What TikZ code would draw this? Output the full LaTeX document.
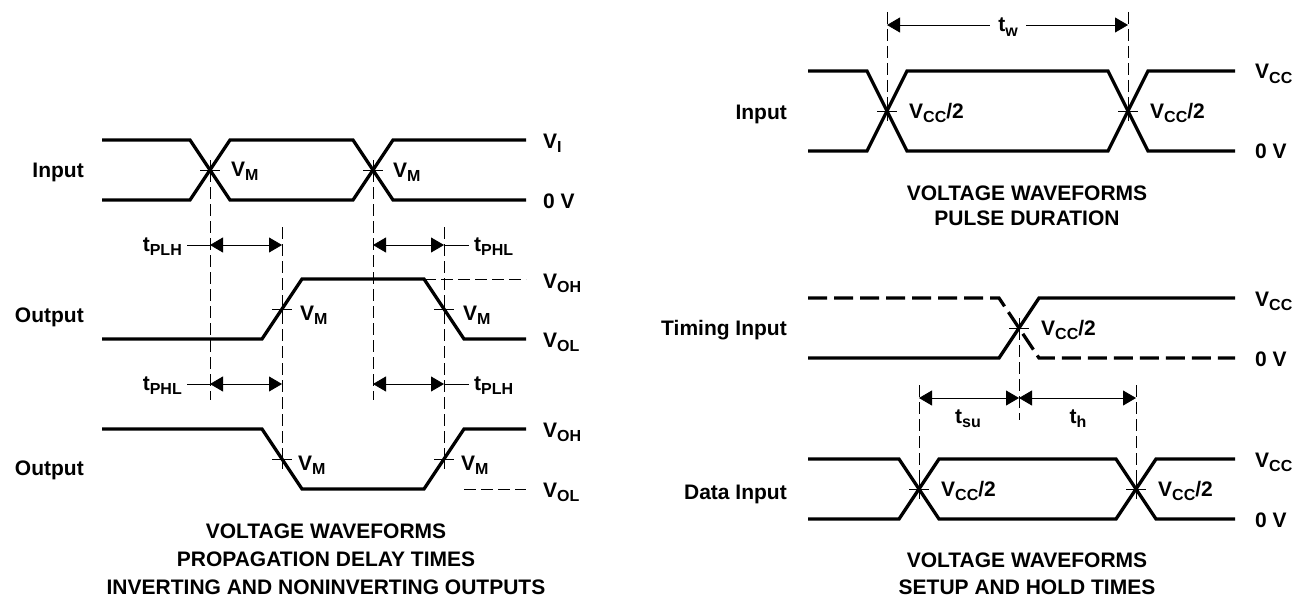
\documentclass[tikz,border=0pt]{standalone}
\usepackage{fontspec}
\setmainfont{Liberation Sans}
\usetikzlibrary{arrows.meta}
\newcommand{\Sb}[1]{\raisebox{-4.5pt}{\fontsize{16}{16}\selectfont #1}}
\begin{document}
\begin{tikzpicture}[x=1pt,y=-1pt,
  sig/.style={line width=3.3pt, line join=miter},
  sigdash/.style={sig, dash pattern=on 19pt off 7pt},
  guide/.style={line width=0.8pt, dash pattern=on 12pt off 5pt},
  thinln/.style={line width=0.8pt},
  dimarrow/.style={thinln, {Triangle[length=13pt,width=15pt]}-{Triangle[length=13pt,width=15pt]}},
  txt/.style={font=\bfseries\fontsize{21}{25}\selectfont, inner sep=0pt},
  vmark/.pic={\draw[line width=0.8pt] (-10,0) -- (10,0) (0,-10) -- (0,10);}
]
\useasboundingbox (0,0) rectangle (1305,599);

% ================= LEFT PANEL =================
\coordinate (ic1) at (210,170);
\coordinate (ic2) at (373,170);
\coordinate (oa1) at (282,309);
\coordinate (oa2) at (444,309);
\coordinate (ob1) at (282,459);
\coordinate (ob2) at (444,459);

\draw[sig] (102,140) -- (190,140) -- (230,200) -- (353,200) -- (393,140) -- (526,140);
\draw[sig] (102,200) -- (190,200) -- (230,140) -- (353,140) -- (393,200) -- (526,200);
\draw[sig] (102,339) -- (262,339) -- (302,279) -- (424,279) -- (464,339) -- (526,339);
\draw[sig] (102,429) -- (262,429) -- (302,489) -- (424,489) -- (464,429) -- (526,429);
\draw[guide] (424,279) -- (526,279);
\draw[guide] (464,489) -- (526,489);

\draw[guide] (ic1) -- (210,400);
\draw[guide] (ic2) -- (373,400);
\draw[guide] (282,227) -- (ob1);
\draw[guide] (444,227) -- (ob2);
\foreach \c in {ic1,ic2,oa1,oa2,ob1,ob2} \pic at (\c) {vmark};

\draw[dimarrow] (210,245) -- (282,245);
\draw[thinln] (187,245) -- (210,245);
\draw[dimarrow] (373,245) -- (444,245);
\draw[thinln] (444,245) -- (469,245);
\draw[dimarrow] (210,384) -- (282,384);
\draw[thinln] (187,384) -- (210,384);
\draw[dimarrow] (373,384) -- (444,384);
\draw[thinln] (444,384) -- (469,384);

\node[txt, anchor=base east] (lin) at (84,177) {Input};
\node[txt, anchor=base east] (lout1) at (84,322) {Output};
\node[txt, anchor=base east] (lout2) at (84,475) {Output};

\node[txt, anchor=base west] (vm1) at (231,176) {V\Sb{M}};
\node[txt, anchor=base west] (vm2) at (393,177) {V\Sb{M}};
\node[txt, anchor=base west] (vm3) at (300,320) {V\Sb{M}};
\node[txt, anchor=base west] (vm4) at (463,320) {V\Sb{M}};
\node[txt, anchor=base west] (vm5) at (298,470) {V\Sb{M}};
\node[txt, anchor=base west] (vm6) at (461,470) {V\Sb{M}};

\node[txt, anchor=base west] (vi) at (543,148) {V\Sb{I}};
\node[txt, anchor=base west] (v0l) at (543,208) {0 V};
\node[txt, anchor=base west] (voh1) at (543,288) {V\Sb{OH}};
\node[txt, anchor=base west] (vol1) at (543,347) {V\Sb{OL}};
\node[txt, anchor=base west] (voh2) at (543,437) {V\Sb{OH}};
\node[txt, anchor=base west] (vol2) at (543,497) {V\Sb{OL}};

\node[txt, anchor=base east] (tplh1) at (182,251) {t\Sb{PLH}};
\node[txt, anchor=base west] (tphl1) at (474,251) {t\Sb{PHL}};
\node[txt, anchor=base east] (tphl2) at (182,390) {t\Sb{PHL}};
\node[txt, anchor=base west] (tplh2) at (474,390) {t\Sb{PLH}};

\node[txt, anchor=base] (t1a) at (326,538) {VOLTAGE WAVEFORMS};
\node[txt, anchor=base] (t1b) at (326,566) {PROPAGATION DELAY TIMES};
\node[txt, anchor=base] (t1c) at (326,594) {INVERTING AND NONINVERTING OUTPUTS};

% ================= RIGHT TOP =================
\coordinate (pc1) at (887,111);
\coordinate (pc2) at (1128,111);
\draw[sig] (808,71) -- (867,71) -- (907,151) -- (1108,151) -- (1148,71) -- (1235,71);
\draw[sig] (808,151) -- (867,151) -- (907,71) -- (1108,71) -- (1148,151) -- (1235,151);
\draw[guide] (887,12) -- (pc1);
\draw[guide] (1128,12) -- (pc2);
\foreach \c in {pc1,pc2} \pic at (\c) {vmark};
\draw[dimarrow] (887,25) -- (1128,25);
\node[txt, fill=white, inner xsep=8pt, inner ysep=2pt] (tw) at (1008,27) {t\Sb{w}};

\node[txt, anchor=base east] (lpin) at (787,120) {Input};
\node[txt, anchor=base west] (pv1) at (909,118) {V\Sb{CC}/2};
\node[txt, anchor=base west] (pv2) at (1150,118) {V\Sb{CC}/2};
\node[txt, anchor=base west] (pvcc) at (1255,79) {V\Sb{CC}};
\node[txt, anchor=base west] (pv0) at (1255,158) {0 V};
\node[txt, anchor=base] (t2a) at (1027,200) {VOLTAGE WAVEFORMS};
\node[txt, anchor=base] (t2b) at (1027,225) {PULSE DURATION};

% ================= RIGHT BOTTOM =================
\coordinate (tc) at (1019,328);
\coordinate (dc1) at (919,489);
\coordinate (dc2) at (1136,489);
\draw[sig] (808,358) -- (999,358) -- (1039,298) -- (1235,298);
\draw[sigdash] (808,298) -- (999,298) -- (1039,358) -- (1235,358);
\draw[sig] (808,459) -- (899,459) -- (939,519) -- (1116,519) -- (1156,459) -- (1235,459);
\draw[sig] (808,519) -- (899,519) -- (939,459) -- (1116,459) -- (1156,519) -- (1235,519);
\draw[guide] (tc) -- (1019,420);
\draw[guide] (919,385) -- (dc1);
\draw[guide] (1136,385) -- (dc2);
\foreach \c in {tc,dc1,dc2} \pic at (\c) {vmark};
\draw[dimarrow] (919,398) -- (1019,398);
\draw[dimarrow] (1019,398) -- (1136,398);

\node[txt, anchor=base] (tsu) at (968,423) {t\Sb{su}};
\node[txt, anchor=base] (th) at (1078,423) {t\Sb{h}};

\node[txt, anchor=base east] (ltin) at (787,335) {Timing Input};
\node[txt, anchor=base east] (ldin) at (787,499) {Data Input};
\node[txt, anchor=base west] (tv) at (1041,335) {V\Sb{CC}/2};
\node[txt, anchor=base west] (dv1) at (941,496) {V\Sb{CC}/2};
\node[txt, anchor=base west] (dv2) at (1158,496) {V\Sb{CC}/2};
\node[txt, anchor=base west] (tvcc) at (1255,306) {V\Sb{CC}};
\node[txt, anchor=base west] (tv0) at (1255,366) {0 V};
\node[txt, anchor=base west] (dvcc) at (1255,467) {V\Sb{CC}};
\node[txt, anchor=base west] (dv0) at (1255,527) {0 V};
\node[txt, anchor=base] (t3a) at (1027,567) {VOLTAGE WAVEFORMS};
\node[txt, anchor=base] (t3b) at (1027,594) {SETUP AND HOLD TIMES};
\end{tikzpicture}
\end{document}
